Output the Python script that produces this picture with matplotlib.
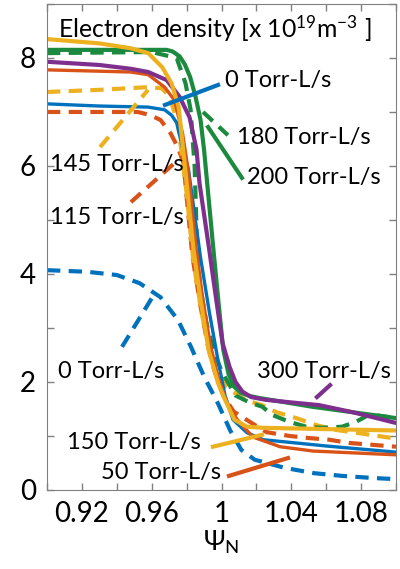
import matplotlib
matplotlib.use('Agg')
import matplotlib.pyplot as plt

plt.rcParams['font.family'] = ['Lato', 'DejaVu Sans']
plt.rcParams['mathtext.fontset'] = 'custom'
plt.rcParams['mathtext.rm'] = 'Lato'
plt.rcParams['mathtext.it'] = 'Lato:italic'

# matlab-ish colours
c_blue = '#0072BD'
c_orange = '#D95319'
c_yellow = '#EDB120'
c_purple = '#7E2F8E'
c_green = '#1B8A3E'

# 0 Torr-L/s, dashed
psi_blue_d = [0.900, 0.923, 0.940, 0.953, 0.965, 0.975, 0.9825, 0.990, 0.998, 1.005, 1.0114, 1.019, 1.036, 1.053, 1.069, 1.087, 1.100]
ne_blue_d = [4.07, 4.04, 3.98, 3.83, 3.57, 3.15, 2.65, 2.10, 1.60, 1.10, 0.74, 0.56, 0.41, 0.31, 0.26, 0.22, 0.20]

# 115 Torr-L/s, dashed
psi_orange_d = [0.900, 0.952, 0.9594, 0.9651, 0.9709, 0.9749, 0.9783, 0.980, 0.9834, 0.988, 0.992, 0.996, 1.001, 1.007, 1.0143, 1.0257, 1.0389, 1.0503, 1.0617, 1.0731, 1.100]
ne_orange_d = [7.00, 7.00, 6.94, 6.85, 6.60, 6.35, 6.05, 5.43, 4.31, 3.40, 2.70, 2.20, 1.75, 1.45, 1.30, 1.07, 1.00, 0.96, 0.93, 0.87, 0.80]

# 145 Torr-L/s, dashed
psi_yellow_d = [0.900, 0.930, 0.958, 0.9657, 0.970, 0.975, 0.980, 0.984, 0.9891, 0.9914, 0.9954, 1.003, 1.012, 1.020, 1.0234, 1.0314, 1.0429, 1.0543, 1.0657, 1.077, 1.100]
ne_yellow_d = [7.37, 7.41, 7.46, 7.44, 7.30, 6.80, 5.50, 4.20, 3.20, 2.90, 2.30, 1.90, 1.70, 1.60, 1.57, 1.44, 1.33, 1.20, 1.11, 1.06, 0.95]

# 180 Torr-L/s, dashed
psi_green_d = [0.900, 0.960, 0.9743, 0.9794, 0.9823, 0.9846, 0.9857, 0.9874, 0.9914, 0.9954, 1.000, 1.008, 1.016, 1.0234, 1.029, 1.0389, 1.0486, 1.0577, 1.069, 1.077, 1.085, 1.100]
ne_green_d = [8.09, 8.11, 8.00, 7.53, 7.04, 6.00, 4.80, 3.83, 3.09, 2.59, 2.20, 1.75, 1.62, 1.54, 1.39, 1.26, 1.17, 1.15, 1.17, 1.26, 1.40, 1.33]

# 0 Torr-L/s, solid
psi_blue = [0.900, 0.930, 0.958, 0.9674, 0.9714, 0.9743, 0.977, 0.9811, 0.9829, 0.988, 0.993, 0.998, 1.002, 1.0066, 1.0146, 1.0238, 1.0611, 1.100]
ne_blue = [7.15, 7.11, 7.09, 7.04, 6.94, 6.80, 6.43, 5.93, 5.50, 4.30, 3.30, 2.40, 1.75, 1.30, 1.06, 0.93, 0.81, 0.70]

# 50 Torr-L/s, solid
psi_orange = [0.900, 0.948, 0.958, 0.9674, 0.973, 0.9777, 0.981, 0.985, 0.989, 0.9935, 0.998, 1.0015, 1.0049, 1.0106, 1.018, 1.0335, 1.0524, 1.100]
ne_orange = [7.78, 7.74, 7.69, 7.46, 7.22, 6.60, 5.90, 4.60, 3.60, 2.70, 2.10, 1.75, 1.48, 1.24, 0.98, 0.80, 0.72, 0.65]

# 200 Torr-L/s, solid
psi_green = [0.900, 0.9686, 0.972, 0.976, 0.979, 0.982, 0.985, 0.988, 0.990, 0.992, 0.9954, 0.9985, 1.001, 1.004, 1.007, 1.011, 1.016, 1.022, 1.052, 1.100]
ne_green = [8.15, 8.15, 8.12, 8.03, 7.88, 7.65, 7.30, 6.85, 6.30, 5.61, 4.44, 3.40, 2.60, 2.15, 1.92, 1.80, 1.74, 1.70, 1.54, 1.33]

# 300 Torr-L/s, solid
psi_purple = [0.900, 0.930, 0.948, 0.958, 0.9686, 0.976, 0.9817, 0.9857, 0.9874, 0.993, 0.997, 1.0006, 1.0046, 1.008, 1.012, 1.017, 1.025, 1.037, 1.056, 1.075, 1.100]
ne_purple = [7.93, 7.87, 7.80, 7.74, 7.59, 7.28, 6.90, 6.30, 5.68, 4.44, 3.52, 2.72, 2.28, 2.00, 1.82, 1.72, 1.67, 1.63, 1.57, 1.44, 1.24]

# 150 Torr-L/s, solid
psi_yellow = [0.900, 0.930, 0.948, 0.958, 0.966, 0.9714, 0.9754, 0.979, 0.984, 0.988, 0.9926, 0.998, 1.002, 1.0074, 1.0146, 1.024, 1.100]
ne_yellow = [8.35, 8.27, 8.18, 8.09, 7.83, 7.53, 7.10, 6.00, 4.44, 3.52, 2.59, 1.98, 1.67, 1.30, 1.17, 1.15, 1.10]

xticks = [0.90, 0.92, 0.94, 0.96, 0.98, 1.00, 1.02, 1.04, 1.06, 1.08, 1.10]
xticklabels = ['', '0.92', '', '0.96', '', '1', '', '1.04', '', '1.08', '']
yticks = [0, 1, 2, 3, 4, 5, 6, 7, 8, 9]
yticklabels = ['0', '', '2', '', '4', '', '6', '', '8', '']

fig = plt.figure(figsize=(4.0, 5.69), dpi=100)
ax = fig.add_axes([0.1175, 0.139, 0.8725, 0.854])

lw = 3
dash = (0, (3.2, 2.0))

ax.plot(psi_blue_d, ne_blue_d, color=c_blue, lw=lw, ls=dash)
ax.plot(psi_orange_d, ne_orange_d, color=c_orange, lw=lw, ls=dash)
ax.plot(psi_yellow_d, ne_yellow_d, color=c_yellow, lw=lw, ls=dash)
ax.plot(psi_green_d, ne_green_d, color=c_green, lw=lw, ls=dash)
ax.plot(psi_blue, ne_blue, color=c_blue, lw=2.4)
ax.plot(psi_orange, ne_orange, color=c_orange, lw=2.4)
ax.plot(psi_green, ne_green, color=c_green, lw=lw)
ax.plot(psi_purple, ne_purple, color=c_purple, lw=lw)
ax.plot(psi_yellow, ne_yellow, color=c_yellow, lw=lw)

# labels and leader lines
fs = 17
ax.plot([0.9676, 0.998], [7.13, 7.50], color=c_blue, lw=lw)
ax.text(1.002, 7.59, '0 Torr-L/s', fontsize=fs, va='center')
ax.plot([0.9894, 1.0037], [7.00, 6.57], color=c_green, lw=lw, ls=dash)
ax.text(1.0089, 6.52, '180 Torr-L/s', fontsize=fs, va='center')
ax.plot([0.9923, 1.0117], [6.72, 5.78], color=c_green, lw=lw)
ax.text(1.0146, 5.78, '200 Torr-L/s', fontsize=fs, va='center')
ax.plot([0.9304, 0.9579], [6.35, 7.41], color=c_yellow, lw=lw, ls=dash)
ax.text(0.9017, 6.02, '145 Torr-L/s', fontsize=fs, va='center')
ax.plot([0.9481, 0.975], [5.33, 6.11], color=c_orange, lw=lw, ls=dash)
ax.text(0.9017, 5.04, '115 Torr-L/s', fontsize=fs, va='center')
ax.plot([0.943, 0.9619], [2.65, 3.65], color=c_blue, lw=lw, ls=dash)
ax.text(0.9063, 2.19, '0 Torr-L/s', fontsize=fs, va='center')
ax.plot([1.0547, 1.0622], [1.72, 1.94], color=c_purple, lw=lw)
ax.text(1.0203, 2.19, '300 Torr-L/s', fontsize=fs, va='center')
ax.plot([0.9951, 1.0232], [0.80, 1.02], color=c_yellow, lw=lw)
ax.text(0.9115, 0.87, '150 Torr-L/s', fontsize=fs, va='center')
ax.plot([1.0043, 1.0381], [0.26, 0.59], color=c_orange, lw=lw)
ax.text(0.931, 0.33, '50 Torr-L/s', fontsize=fs, va='center')

ax.text(0.0315, 0.95, 'Electron density [x 10$^{19}$m$^{-3}$ ]', transform=ax.transAxes,
        fontsize=17.8, va='center')

ax.set_xlim(0.90, 1.10)
ax.set_ylim(0, 9)
ax.set_xticks(xticks)
ax.set_xticklabels(xticklabels)
ax.set_yticks(yticks)
ax.set_yticklabels(yticklabels)
ax.tick_params(direction='in', length=5, width=1, colors='#808080', labelcolor='black',
               labelsize=20, top=True, right=True, pad=8)
for s in ax.spines.values():
    s.set_color('#808080')
ax.set_xlabel(r'$\Psi_\mathrm{N}$', fontsize=19, labelpad=1)

fig.savefig('out.png', dpi=100)
